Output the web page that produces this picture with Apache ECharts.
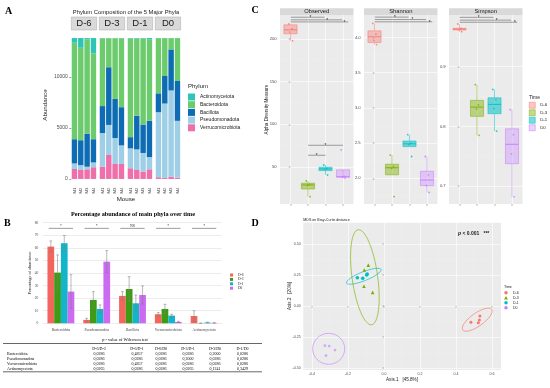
<!DOCTYPE html>
<html><head><meta charset="utf-8">
<script src="https://cdn.jsdelivr.net/npm/echarts@6/dist/echarts.min.js"></script>
<style>html,body{margin:0;padding:0;background:#fff}#c{width:550px;height:388px}</style>
</head><body><div id="c"></div>
<script>
// ================= DATA =================
// Panel A: phylum abundance per mouse (stack segments)
const phyla = ['Actinomycetota','Bacteroidota','Bacillota','Pseudomonadota','Verrucomicrobiota'];
const facetsA = ['D-6','D-3','D-1','D0'];
const mice = ['M1','M2','M3','M4'];
const verrucoA   = [[980,880,950,1150],[1210,2350,1470,1470],[1050,880,720,950],[170,100,230,130]];
const pseudoA    = [[540,470,250,470],[3290,2950,2550,1820],[1950,2020,1830,1200],[6380,7300,8450,5570]];
const bacillotaA = [[2380,2450,3250,2280],[2650,5660,3830,3750],[1100,3300,2790,3550],[1850,2700,4030,3910]];
const bacteroidA = [[9460,9070,9250,8420],[6654,2844,5954,6764],[9664,7564,8424,7964],[5414,3714,1104,4204]];
const actinoA    = [[464,954,124,1504],[20,20,20,20],[60,60,60,160],[10,10,10,10]];
const abundanceTicks = [0,5000,10000];

// Panel C: alpha diversity boxes [low whisker, Q1, median, Q3, high whisker]
const timeGroups = ['D-6','D-3','D-1','D0'];
const alphaFacets = ['Observed','Shannon','Simpson'];
const observedBox = [[197.7,206,210.6,216.5,217.6],[15.2,24.2,28.9,30.9,33.6],[40.6,45.7,47.7,49.6,52.3],[37,37.9,38.6,46.6,39]];
const shannonBox  = [[3.9,3.93,4.01,4.095,4.2],[2.05,2.05,2.15,2.2,2.33],[2.45,2.45,2.49,2.53,2.62],[1.8,1.895,1.976,2.1,2.31]];
const simpsonBox  = [[0.9586,0.9615,0.963,0.9643,0.9715],[0.785,0.8168,0.8323,0.8436,0.87],[0.792,0.8213,0.8369,0.848,0.862],[0.682,0.7375,0.77,0.796,0.828]];
const observedPts = [[217.6,212,208,197.7],[33.6,29.5,28.3,15.2],[52.3,48.2,47.2,40.6],[70,39,38.2,37]];
const shannonPts  = [[4.2,4.05,3.96,3.9],[2.33,2.17,2.14,1.74],[2.62,2.5,2.48,2.31],[2.31,2.05,1.9,1.8]];
const simpsonPts  = [[0.9715,0.964,0.962,0.9586],[0.87,0.836,0.829,0.785],[0.862,0.845,0.83,0.792],[0.828,0.786,0.754,0.682]];
const jitterX = [-0.1,0.08,-0.03,0.12];
// significance brackets [x from, x to, y, star x]
const observedSig = [[0,1.95,225.4,1.13],[0,2.95,222.3,2.1],[0,3.3,219.9,3.08],[1,3,75.4,2],[1,2,63.7,1.5]];
const shannonSig  = [[0,1.95,4.29,1.16],[0,2.95,4.255,2.16],[0,3.3,4.223,3.15]];
const simpsonSig  = [[0,1.95,0.9827,1.1],[0,2.95,0.978,2.12],[0,3.3,0.9745,3.17]];
const observedTicks = [50,100,150,200], observedMinor = [25,75,125,175,225];
const shannonTicks = [2,2.5,3,3.5,4], shannonMinor = [1.75,2.25,2.75,3.25,3.75,4.25];
const simpsonTicks = [0.7,0.8,0.9], simpsonMinor = [0.75,0.85,0.95];

// Panel B: percentage abundance (mean, sd)
const mainPhyla = ['Bacteroidota','Pseudomonadota','Bacillota','Verrucomicrobiota','Actinomycetota'];
const pctD6 = [61,2.7,21.8,7.2,5.8],  sdD6 = [4.5,1.3,3.4,1.3,4.2];
const pctD3 = [40.3,18.6,27.3,11.4,0.1], sdD3 = [14.1,6.6,9.8,3.7,0.1];
const pctD1 = [63.7,11.4,15.9,6.1,0.6], sdD1 = [6.1,3.2,6.6,1.1,0.3];
const pctD0 = [25.2,49,22.5,1.1,0.3], sdD0 = [13.5,8.8,7.2,0.5,0.2];
const sigLabelsB = ['*','*','NS','*','*'];
const sigLevelB = 75.5;
// Wilcoxon table
const tableCols = ['D-6/D-3','D-6/D-1','D-6/D0','D-3/D-1','D-3/D0','D-1/D0'];
const tableRows = ['Bacteroidota','Pseudomonadota','Verrucomicrobiota','Actinomycetota'];
const tableP = [
  ['0,0286','0,4857','0,0286','0,0286','0,2000','0,0286'],
  ['0,0286','0,0286','0,0286','0,2000','0,0286','0,0286'],
  ['0,0286','0,4857','0,0286','0,0286','0,0286','0,0286'],
  ['0,0265','0,0286','0,0286','0,0265','0,1241','0,3429']];

// Panel D: MDS coordinates
const mdsD6 = [[0.483,-0.131],[0.524,-0.134],[0.533,-0.081],[0.53,-0.113]];
const mdsD3 = [[-0.087,0.33],[-0.109,0.29],[-0.111,0.16],[-0.063,0.11]];
const mdsD1 = [[-0.148,0.228],[-0.118,0.223],[-0.096,0.25],[-0.093,0.258]];
const mdsD0 = [[-0.328,-0.32],[-0.304,-0.323],[-0.272,-0.355],[-0.322,-0.4]];
// ellipses [cx, cy, rx, ry, angle deg]
const ellipsesD = [[0.518,-0.110,0.099,0.052,35.5],[-0.106,0.232,0.071,0.387,8],[-0.112,0.24,0.103,0.036,21.6],[-0.307,-0.345,0.089,0.125,0]];
const mdsXTicks = [-0.4,-0.2,0,0.2,0.4,0.6], mdsXMinor = [-0.3,-0.1,0.1,0.3,0.5];
const mdsYTicks = [-0.5,-0.25,0,0.25,0.5], mdsYMinor = [-0.375,-0.125,0.125,0.375,0.625];

// ================= STYLE / LAYOUT =================
const FONT = '"Liberation Sans", Arial, sans-serif';
const SERIF = '"Liberation Serif", "Times New Roman", serif';
const phylumColor = {Actinomycetota:'#2EC4B6', Bacteroidota:'#6CCB6C', Bacillota:'#0D6CB3', Pseudomonadota:'#9ECFE6', Verrucomicrobiota:'#EE6FA9'};
const timeColors = ['#F8766D','#7CAE00','#00BFC4','#C77CFF'];
const timeFills = ['rgba(248,118,109,0.4)','rgba(124,174,0,0.45)','rgba(0,191,196,0.55)','rgba(199,124,255,0.35)'];
const barColors = ['#F2665E','#3D9C14','#12B5C9','#CB6BF2'];

const grids = [], xAxes = [], yAxes = [], series = [], graphics = [], legends = [];
const addGrid = g => (grids.push(g), grids.length - 1);
const addX = a => (xAxes.push(a), xAxes.length - 1);
const addY = a => (yAxes.push(a), yAxes.length - 1);
function txt(x, y, text, o) {
  o = o || {};
  const al = o.align || 'center';
  return {type:'text', x:x, y:y, rotation:o.rot || 0, silent:true, z:50,
    style:{text:text, fontSize:o.size || 5, fontFamily:o.font || FONT, fontWeight:o.weight || 'normal',
      fontStyle:o.style || 'normal', fill:o.color || '#1A1A1A', align:al, textAlign:al,
      verticalAlign:'middle', textVerticalAlign:'middle', rich:o.rich}};
}
function rect(x, y, w, h, fill, stroke) {
  return {type:'rect', silent:true, z:40, shape:{x:x, y:y, width:w, height:h},
    style:{fill:fill, stroke:stroke || null, lineWidth:stroke ? 0.5 : 0}};
}
function hline(x1, x2, y, w) {
  return {type:'line', silent:true, z:40, shape:{x1:x1, y1:y, x2:x2, y2:y}, style:{stroke:'#000', lineWidth:w}};
}

// ================= PANEL A =================
const aLefts = [71.3, 99.3, 127.3, 155.3], aW = 25.3, aTop = 31, aBot = 186;
const aStackOrder = ['Verrucomicrobiota','Pseudomonadota','Bacillota','Bacteroidota','Actinomycetota'];
const aStackData = [verrucoA, pseudoA, bacillotaA, bacteroidA, actinoA];
facetsA.forEach((f, i) => {
  const gi = addGrid({left:aLefts[i], top:aTop, width:aW, height:aBot - aTop, show:false});
  const xi = addX({type:'category', gridIndex:gi, data:mice, axisLine:{show:false}, axisTick:{show:false},
    axisLabel:{rotate:90, interval:0, fontSize:4.3, color:'#4D4D4D', margin:1.5, fontFamily:FONT}});
  const yi = addY({type:'value', gridIndex:gi, min:-691, max:14515, axisLine:{show:false}, splitLine:{show:false},
    axisTick:{show:i === 0, customValues:abundanceTicks, length:2, lineStyle:{color:'#333', width:0.5}},
    axisLabel:{show:i === 0, customValues:abundanceTicks, fontSize:5, color:'#4D4D4D', margin:3.5, fontFamily:FONT,
      formatter:v => String(v)}});
  aStackOrder.forEach((p, k) => {
    series.push({type:'bar', name:p, xAxisIndex:xi, yAxisIndex:yi, stack:'A' + i, data:aStackData[k][i],
      barCategoryGap:'14%', itemStyle:{color:phylumColor[p]}, silent:true});
  });
  graphics.push(rect(aLefts[i], 17, aW, 13, '#D9D9D9', '#A8A8A8'));
  graphics.push(txt(aLefts[i] + aW / 2, 23.7, f, {size:9.5}));
});
graphics.push(txt(8.5, 11.5, 'A', {size:10, weight:'bold', font:SERIF, color:'#000'}));
graphics.push(txt(126, 12, 'Phylum Composition of the 5 Major Phyla', {size:5.8}));
graphics.push(txt(45, 105, 'Abundance', {size:6.2, rot:Math.PI / 2}));
graphics.push(txt(126, 199.5, 'Mouse', {size:6.2}));
graphics.push(txt(188, 86.5, 'Phylum', {size:6, align:'left'}));
legends.push({left:188, top:93.5, orient:'vertical', padding:0, itemWidth:7, itemHeight:7, itemGap:0.7,
  selectedMode:false, icon:'rect', textStyle:{fontSize:5, lineHeight:7, color:'#1A1A1A', fontFamily:FONT},
  data:phyla.map(p => ({name:p, itemStyle:{color:phylumColor[p], borderWidth:0}}))});

// ================= PANEL C =================
const cLefts = [280, 364, 449], cW = 73.5, cTop = 15, cBot = 204;
const cRanges = [[6.6, 228], [1.635, 4.32], [0.67, 0.9866]];
const cTicks = [observedTicks, shannonTicks, simpsonTicks];
const cMinor = [observedMinor, shannonMinor, simpsonMinor];
const cFmt = [v => String(v), v => v.toFixed(1), v => v.toFixed(1)];
const alphaBoxes = [observedBox, shannonBox, simpsonBox];
const alphaPts = [observedPts, shannonPts, simpsonPts];
const alphaSig = [observedSig, shannonSig, simpsonSig];
alphaFacets.forEach((f, i) => {
  const gi = addGrid({left:cLefts[i], top:cTop, width:cW, height:cBot - cTop, show:true, backgroundColor:'#EBEBEB', borderWidth:0});
  const xi = addX({type:'value', gridIndex:gi, min:-0.6, max:3.6, axisLine:{show:false},
    axisTick:{show:true, customValues:[0,1,2,3], length:2, lineStyle:{color:'#444', width:0.4}},
    axisLabel:{show:false}, splitLine:{show:true, lineStyle:{color:'#FFFFFF', width:0.6}}});
  const yi = addY({type:'value', gridIndex:gi, min:cRanges[i][0], max:cRanges[i][1], axisLine:{show:false},
    axisTick:{show:true, customValues:cTicks[i], length:1.8, lineStyle:{color:'#444', width:0.4}},
    axisLabel:{show:true, customValues:cTicks[i], fontSize:4.2, color:'#4D4D4D', margin:3.3, fontFamily:FONT, formatter:cFmt[i]},
    splitLine:{show:true, lineStyle:{color:'#FFFFFF', width:0.6}}});
  addY({type:'value', gridIndex:gi, min:cRanges[i][0], max:cRanges[i][1], axisLine:{show:false},
    axisTick:{show:false, customValues:cMinor[i]}, axisLabel:{show:false},
    splitLine:{show:true, lineStyle:{color:'#F7F7F7', width:0.35}}});
  // boxes
  series.push({type:'custom', name:f + ' box', xAxisIndex:xi, yAxisIndex:yi, silent:true, z:3,
    data:alphaBoxes[i].map((b, g) => [g].concat(b)),
    renderItem:(params, api) => {
      const g = api.value(0);
      const cx = api.coord([g, api.value(3)])[0];
      const py = k => api.coord([g, api.value(k)])[1];
      const w = api.size([0.75, 0])[0];
      const col = timeColors[g];
      const lo = py(1), q1 = py(2), md = py(3), q3 = py(4), hi = py(5);
      return {type:'group', children:[
        {type:'line', shape:{x1:cx, y1:q3, x2:cx, y2:hi}, style:{stroke:col, lineWidth:0.5}},
        {type:'line', shape:{x1:cx, y1:q1, x2:cx, y2:lo}, style:{stroke:col, lineWidth:0.5}},
        {type:'rect', shape:{x:cx - w / 2, y:q3, width:w, height:Math.max(q1 - q3, 0.6)}, style:{fill:timeFills[g], stroke:col, lineWidth:0.5}},
        {type:'line', shape:{x1:cx - w / 2, y1:md, x2:cx + w / 2, y2:md}, style:{stroke:col, lineWidth:0.9}}
      ]};
    }});
  // jittered points
  const pts = [];
  alphaPts[i].forEach((vals, g) => vals.forEach((v, j) => pts.push({value:[g + jitterX[j], v], itemStyle:{color:timeColors[g]}})));
  series.push({type:'scatter', name:f + ' pts', xAxisIndex:xi, yAxisIndex:yi, symbolSize:1.8, silent:true, z:4, data:pts});
  // significance brackets
  series.push({type:'custom', name:f + ' sig', xAxisIndex:xi, yAxisIndex:yi, silent:true, z:5,
    data:alphaSig[i],
    renderItem:(params, api) => {
      const a = api.coord([api.value(0), api.value(2)]);
      const b = api.coord([api.value(1), api.value(2)]);
      const s = api.coord([api.value(3), api.value(2)]);
      return {type:'group', children:[
        {type:'line', shape:{x1:a[0], y1:a[1], x2:b[0], y2:b[1]}, style:{stroke:'#333', lineWidth:0.45}},
        {type:'text', x:s[0], y:s[1] + 0.6, style:{text:'*', fontSize:4.5, fontFamily:FONT, fill:'#222', align:'center', verticalAlign:'middle'}}
      ]};
    }});
  graphics.push(rect(cLefts[i], 8.3, cW, 6.7, '#D9D9D9'));
  graphics.push(txt(cLefts[i] + cW / 2, 11.8, f, {size:5.8}));
});
graphics.push(txt(255, 10.5, 'C', {size:10, weight:'bold', font:SERIF, color:'#000'}));
graphics.push(txt(266.5, 109.5, 'Alpha Diversity Measure', {size:4.6, rot:Math.PI / 2}));
graphics.push(txt(529, 97.5, 'Time', {size:5, align:'left'}));
legends.push({left:529, top:102, orient:'vertical', padding:0, itemWidth:6, itemHeight:6, itemGap:1,
  selectedMode:false, icon:'rect', textStyle:{fontSize:4.3, lineHeight:6, color:'#1A1A1A', fontFamily:FONT},
  data:timeGroups.map((t, g) => ({name:t, itemStyle:{color:timeFills[g], borderColor:timeColors[g], borderWidth:0.5}}))});

// ================= PANEL B =================
const bGi = addGrid({left:43, top:222.7, width:179, height:100.6, show:false});
const bXi = addX({type:'category', gridIndex:bGi, data:mainPhyla, axisLine:{show:false}, axisTick:{show:false},
  axisLabel:{fontSize:3.6, color:'#404040', margin:4.5, fontFamily:SERIF, interval:0}});
const bYi = addY({type:'value', gridIndex:bGi, min:0, max:80, interval:10, axisLine:{show:false}, axisTick:{show:false},
  axisLabel:{fontSize:3.6, color:'#404040', margin:4.7, fontFamily:SERIF},
  splitLine:{show:true, lineStyle:{color:'#D9D9D9', width:0.5}}});
const pctMeans = [pctD6, pctD3, pctD1, pctD0];
const pctSds = [sdD6, sdD3, sdD1, sdD0];
timeGroups.forEach((t, k) => {
  series.push({type:'bar', name:t, xAxisIndex:bXi, yAxisIndex:bYi, data:pctMeans[k], barGap:'0%', barCategoryGap:'25%',
    itemStyle:{color:barColors[k]}, silent:true});
});
const errData = [];
pctMeans.forEach((m, k) => m.forEach((v, c) => errData.push([c, v, pctSds[k][c], k])));
series.push({type:'custom', name:'error bars', xAxisIndex:bXi, yAxisIndex:bYi, silent:true, z:5, data:errData,
  renderItem:(params, api) => {
    const c = api.value(0), v = api.value(1), sd = api.value(2), k = api.value(3);
    const band = api.size([1, 0])[0];
    const bw = band * 0.75 / 4;
    const x = api.coord([c, v])[0] + (k - 1.5) * bw;
    const yt = api.coord([c, v + sd])[1], yb = api.coord([c, Math.max(v - sd, 0)])[1];
    const st = {stroke:'#7F7F7F', lineWidth:0.55};
    return {type:'group', children:[
      {type:'line', shape:{x1:x, y1:yt, x2:x, y2:yb}, style:st},
      {type:'line', shape:{x1:x - 1.4, y1:yt, x2:x + 1.4, y2:yt}, style:st},
      {type:'line', shape:{x1:x - 1.4, y1:yb, x2:x + 1.4, y2:yb}, style:st}
    ]};
  }});
series.push({type:'custom', name:'sig B', xAxisIndex:bXi, yAxisIndex:bYi, silent:true, z:5,
  data:mainPhyla.map((p, c) => [c, sigLevelB]),
  renderItem:(params, api) => {
    const p = api.coord([api.value(0), api.value(1)]);
    const hw = api.size([1, 0])[0] * 0.34;
    return {type:'group', children:[
      {type:'line', shape:{x1:p[0] - hw, y1:p[1], x2:p[0] + hw, y2:p[1]}, style:{stroke:'#222', lineWidth:0.45}},
      {type:'text', x:p[0], y:p[1] - 2.3, style:{text:sigLabelsB[params.dataIndex], fontSize:3.8, fontFamily:SERIF, fill:'#222', align:'center', verticalAlign:'middle'}}
    ]};
  }});
graphics.push(txt(7.3, 223.3, 'B', {size:10, weight:'bold', font:SERIF, color:'#000'}));
graphics.push(txt(133, 214, 'Percentage abundance of main phyla over time', {size:6.2, weight:'bold', font:SERIF, color:'#000'}));
graphics.push(txt(30, 273, 'Percentage of abundance', {size:4.3, font:SERIF, rot:Math.PI / 2, color:'#222'}));
legends.push({left:230, top:273, orient:'vertical', padding:0, itemWidth:3, itemHeight:3, itemGap:0.4,
  selectedMode:false, icon:'rect', textStyle:{fontSize:3.5, lineHeight:4, color:'#222', fontFamily:SERIF},
  data:timeGroups.map((t, k) => ({name:t, itemStyle:{color:barColors[k], borderWidth:0}}))});
// table
const colX = [99, 137, 161, 188, 215, 242.5];
graphics.push(txt(125, 339.5, 'p - value of Wilcoxon test', {size:4.4, font:SERIF, color:'#000'}));
graphics.push(hline(3, 262, 343.5, 0.6));
graphics.push(hline(3, 262, 371.8, 0.6));
tableCols.forEach((c, j) => graphics.push(txt(colX[j], 348.5, c, {size:4, font:SERIF, color:'#000'})));
tableRows.forEach((r, i) => {
  graphics.push(txt(7, 354.3 + i * 5, r, {size:4, font:SERIF, color:'#000', align:'left'}));
  tableP[i].forEach((v, j) => graphics.push(txt(colX[j], 354.3 + i * 5, v, {size:4, font:SERIF, color:'#000'})));
});

// ================= PANEL D =================
const dGi = addGrid({left:303.3, top:222.7, width:197.7, height:147.3, show:true, backgroundColor:'#EBEBEB', borderWidth:0});
const dXi = addX({type:'value', gridIndex:dGi, min:-0.448, max:0.65, axisLine:{show:false},
  axisTick:{show:true, customValues:mdsXTicks, length:1.5, lineStyle:{color:'#444', width:0.4}},
  axisLabel:{show:true, customValues:mdsXTicks, fontSize:3.6, color:'#4D4D4D', margin:2, fontFamily:FONT, formatter:v => v.toFixed(1)},
  splitLine:{show:true, lineStyle:{color:'#FFFFFF', width:0.6}}});
addX({type:'value', gridIndex:dGi, min:-0.448, max:0.65, axisLine:{show:false}, axisTick:{show:false, customValues:mdsXMinor},
  axisLabel:{show:false}, splitLine:{show:true, lineStyle:{color:'#F7F7F7', width:0.35}}});
const dYi = addY({type:'value', gridIndex:dGi, min:-0.516, max:0.672, axisLine:{show:false},
  axisTick:{show:true, customValues:mdsYTicks, length:1.5, lineStyle:{color:'#444', width:0.4}},
  axisLabel:{show:true, customValues:mdsYTicks, fontSize:3.6, color:'#4D4D4D', margin:2.5, fontFamily:FONT, formatter:v => v.toFixed(2)},
  splitLine:{show:true, lineStyle:{color:'#FFFFFF', width:0.6}}});
addY({type:'value', gridIndex:dGi, min:-0.516, max:0.672, axisLine:{show:false}, axisTick:{show:false, customValues:mdsYMinor},
  axisLabel:{show:false}, splitLine:{show:true, lineStyle:{color:'#F7F7F7', width:0.35}}});
series.push({type:'custom', name:'ellipses', xAxisIndex:dXi, yAxisIndex:dYi, silent:true, z:3, data:ellipsesD,
  renderItem:(params, api) => {
    const c = api.coord([api.value(0), api.value(1)]);
    const s = api.size([api.value(2), api.value(3)]);
    return {type:'ellipse', x:c[0], y:c[1], rotation:api.value(4) * Math.PI / 180,
      shape:{cx:0, cy:0, rx:s[0], ry:s[1]}, style:{fill:'none', stroke:timeColors[params.dataIndex], lineWidth:0.6}};
  }});
const mdsSets = [mdsD6, mdsD3, mdsD1, mdsD0];
const mdsSymbols = ['circle','triangle','circle','circle'];
const mdsSizes = [3, 3.6, 3.6, 2.8];
timeGroups.forEach((t, k) => {
  series.push({type:'scatter', name:t, xAxisIndex:dXi, yAxisIndex:dYi, data:mdsSets[k], symbol:mdsSymbols[k],
    symbolSize:mdsSizes[k], silent:true, z:4, itemStyle:{color:timeColors[k], opacity:k === 3 ? 0.6 : 1}});
});
graphics.push(txt(255, 223.3, 'D', {size:10, weight:'bold', font:SERIF, color:'#000'}));
graphics.push(txt(303.3, 219.5, 'MDS on Bray-Curtis distance', {size:3.6, align:'left'}));
graphics.push(txt(458, 234, '{i|p} < 0.001   ***', {size:5, weight:'bold', align:'left',
  rich:{i:{fontStyle:'italic', fontWeight:'bold', fontSize:5, fontFamily:FONT}}}));
graphics.push(txt(402, 379.5, 'Axis.1   [45.8%]', {size:4.6}));
graphics.push(txt(289.3, 296, 'Axis.2   [20%]', {size:4.6, rot:Math.PI / 2}));
graphics.push(txt(504, 286.5, 'Time', {size:3.6, align:'left'}));
legends.push({left:504, top:290.5, orient:'vertical', padding:0, itemWidth:4, itemHeight:3.5, itemGap:0.5,
  selectedMode:false, textStyle:{fontSize:3.5, lineHeight:4.5, color:'#1A1A1A', fontFamily:FONT},
  data:timeGroups.map((t, k) => ({name:t, icon:mdsSymbols[k], itemStyle:{color:timeColors[k]}}))});

// ================= RENDER =================
const chart = echarts.init(document.getElementById('c'), null, {renderer:'canvas', width:550, height:388});
chart.setOption({animation:false, backgroundColor:'#FFFFFF', textStyle:{fontFamily:FONT},
  grid:grids, xAxis:xAxes, yAxis:yAxes, series:series, legend:legends, graphic:graphics});
</script></body></html>
